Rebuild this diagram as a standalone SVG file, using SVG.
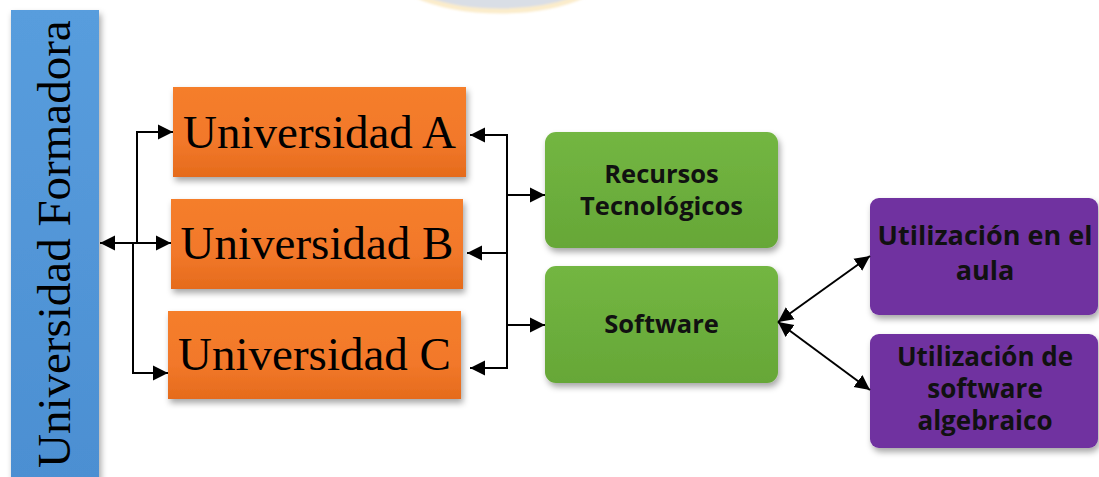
<svg xmlns="http://www.w3.org/2000/svg" width="1099" height="477" viewBox="0 0 1099 477">
<style>
.serif{font-family:"Liberation Serif","Times New Roman",serif;font-size:47px;fill:#000}
.sans{font-family:"Open Sans","Liberation Sans",sans-serif;font-weight:700;fill:#111;text-anchor:middle}
.ln{fill:none;stroke:#000;stroke-width:2}
</style>
<defs>
<linearGradient id="gBlue" x1="0" y1="0" x2="0" y2="1"><stop offset="0" stop-color="#589ddd"/><stop offset="1" stop-color="#4c8fd2"/></linearGradient>
<linearGradient id="gOr" x1="0" y1="0" x2="0" y2="1"><stop offset="0" stop-color="#f57e2c"/><stop offset="0.6" stop-color="#f2782a"/><stop offset="1" stop-color="#e56b1c"/></linearGradient>
<linearGradient id="gGr" x1="0" y1="0" x2="0" y2="1"><stop offset="0" stop-color="#73b642"/><stop offset="1" stop-color="#66a737"/></linearGradient>
<filter id="sh" x="-10%" y="-10%" width="130%" height="140%"><feDropShadow dx="2" dy="4" stdDeviation="3" flood-color="#000" flood-opacity="0.35"/></filter>
<filter id="bl" x="-10%" y="-10%" width="120%" height="130%"><feGaussianBlur stdDeviation="1"/></filter>
<marker id="ar" markerUnits="userSpaceOnUse" markerWidth="16" markerHeight="16" refX="15" refY="8" orient="auto-start-reverse" viewBox="0 0 16 16"><path d="M0,0.5 L15,8 L0,15.5 z" fill="#000"/></marker>
</defs>
<ellipse cx="500" cy="-49" rx="125" ry="60" fill="#d9dee6" stroke="#fbeccb" stroke-width="5" filter="url(#bl)"/>
<g id="universidad-formadora">
<rect x="11" y="10" width="88" height="470" fill="url(#gBlue)" filter="url(#sh)"/>
<text class="serif" transform="translate(70,468) rotate(-90)">Universidad Formadora</text>
</g>
<g id="univ-a">
<rect x="173" y="87" width="293" height="90" fill="url(#gOr)" filter="url(#sh)"/>
<text class="serif" x="319.5" y="148" text-anchor="middle">Universidad A</text>
</g>
<g id="univ-b">
<rect x="171" y="199" width="292" height="90" fill="url(#gOr)" filter="url(#sh)"/>
<text class="serif" x="317" y="259" text-anchor="middle">Universidad B</text>
</g>
<g id="univ-c">
<rect x="168" y="311" width="293" height="88" fill="url(#gOr)" filter="url(#sh)"/>
<text class="serif" x="314.5" y="370" text-anchor="middle">Universidad C</text>
</g>
<g id="recursos">
<rect x="545" y="132" width="233" height="116" rx="11" fill="url(#gGr)" filter="url(#sh)"/>
<text class="sans" x="661.5" y="183" font-size="25.5">Recursos</text>
<text class="sans" x="661.5" y="215" font-size="25.5">Tecnológicos</text>
</g>
<g id="software">
<rect x="545" y="266" width="233" height="117" rx="11" fill="url(#gGr)" filter="url(#sh)"/>
<text class="sans" x="661.5" y="333" font-size="25.5">Software</text>
</g>
<g id="aula">
<rect x="870" y="198" width="228" height="117" rx="9" fill="#7030a0" filter="url(#sh)"/>
<text class="sans" x="985" y="245" font-size="27">Utilización en el</text>
<text class="sans" x="985" y="280" font-size="27">aula</text>
</g>
<g id="algebraico">
<rect x="870" y="334" width="228" height="114" rx="9" fill="#7030a0" filter="url(#sh)"/>
<text class="sans" x="985" y="366" font-size="26">Utilización de</text>
<text class="sans" x="985" y="398" font-size="26">software</text>
<text class="sans" x="985" y="430" font-size="26">algebraico</text>
</g>
<g id="connectors">
<line class="ln" x1="100" y1="243" x2="171" y2="243" marker-start="url(#ar)" marker-end="url(#ar)"/>
<polyline class="ln" points="137,243 137,132 173,132" marker-end="url(#ar)"/>
<polyline class="ln" points="133,243 133,373 168,373" marker-end="url(#ar)"/>
<line class="ln" x1="507" y1="134" x2="507" y2="369"/>
<line class="ln" x1="507" y1="135" x2="470" y2="135" marker-end="url(#ar)"/>
<line class="ln" x1="507" y1="253" x2="467" y2="253" marker-end="url(#ar)"/>
<line class="ln" x1="507" y1="368" x2="470" y2="368" marker-end="url(#ar)"/>
<line class="ln" x1="507" y1="195" x2="545" y2="195" marker-end="url(#ar)"/>
<line class="ln" x1="507" y1="325" x2="545" y2="325" marker-end="url(#ar)"/>
<line class="ln" x1="778" y1="322" x2="870" y2="256" marker-start="url(#ar)" marker-end="url(#ar)"/>
<line class="ln" x1="778" y1="322" x2="870" y2="390" marker-start="url(#ar)" marker-end="url(#ar)"/>
</g>
</svg>
